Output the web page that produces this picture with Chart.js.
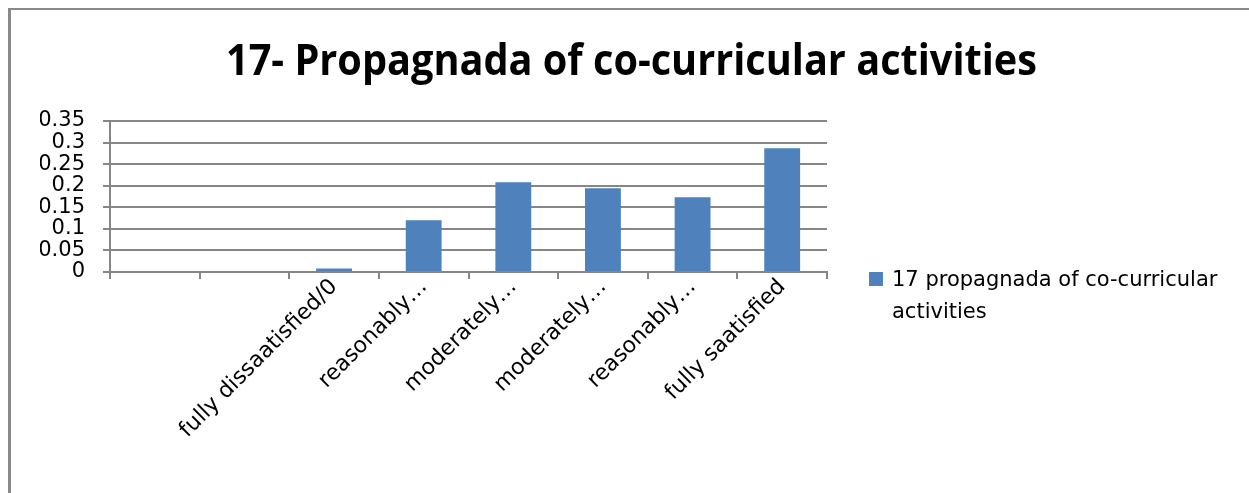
<!DOCTYPE html>
<html>
<head>
<meta charset="utf-8">
<script src="https://cdn.jsdelivr.net/npm/chart.js@4/dist/chart.umd.min.js"></script>
<style>
  html, body { margin: 0; padding: 0; background: #fff; }
  #wrap { width: 1249px; height: 493px; }
</style>
</head>
<body>
<div id="wrap"><canvas id="myChart" width="1249" height="493"></canvas></div>
<script>
// dados do gráfico
const chartTitle = '17- Propagnada of co-curricular activities';
const seriesName = ['17 propagnada of co-curricular', 'activities'];
const categories = ['', '', 'fully dissaatisfied/0', 'reasonably…', 'moderately…', 'moderately…', 'reasonably…', 'fully saatisfied'];
const values = [0, 0, 0.008, 0.12, 0.208, 0.194, 0.173, 0.287];
const yTickValues = [0, 0.05, 0.1, 0.15, 0.2, 0.25, 0.3, 0.35];
const yTickLabels = ['0', '0.05', '0.1', '0.15', '0.2', '0.25', '0.3', '0.35'];

const barColor = '#4F81BD';
const gridColor = '#868686';

// moldura, título e legenda desenhados à mão
const decorPlugin = {
    id: 'decor',
    afterDraw(chart) {
        const ctx = chart.ctx;
        const area = chart.chartArea;
        ctx.save();
        // moldura cinza
        ctx.fillStyle = '#8a8a8a';
        ctx.fillRect(8, 8, 1241, 2);
        ctx.fillRect(8, 8, 3, 485);

        // título (fonte estreita tipo Calibri)
        ctx.fillStyle = '#000';
        ctx.font = 'bold 43px "Open Sans"';
        ctx.textBaseline = 'alphabetic';
        ctx.textAlign = 'left';
        const w = ctx.measureText(chartTitle).width;
        ctx.save();
        ctx.translate(226, 75);
        ctx.scale(811 / w, 1);
        ctx.fillText(chartTitle, 0, 0);
        ctx.restore();

        // legenda
        const lx = area.right + 42;
        ctx.fillStyle = barColor;
        ctx.fillRect(lx, 272, 14, 14);
        ctx.fillStyle = '#000';
        ctx.font = '21px "DejaVu Sans"';
        seriesName.forEach((line, i) => {
            ctx.fillText(line, lx + 23, 286 + i * 32);
        });
        ctx.restore();
    }
};

const ctx = document.getElementById('myChart').getContext('2d');
const myChart = new Chart(ctx, {
    type: 'bar',
    data: {
        labels: categories,
        datasets: [{
            label: seriesName.join(' '),
            data: values,
            backgroundColor: barColor,
            categoryPercentage: 1,
            barPercentage: 0.4
        }]
    },
    options: {
        responsive: false,
        animation: false,
        layout: {
            padding: { left: 40, right: 422, top: 121, bottom: 21 }
        },
        scales: {
            x: {
                grid: {
                    offset: true,
                    drawOnChartArea: false,
                    drawTicks: true,
                    tickLength: 7,
                    color: gridColor,
                    lineWidth: 2
                },
                border: { color: gridColor, width: 2 },
                ticks: {
                    color: '#000',
                    font: { family: 'DejaVu Sans', size: 22 },
                    minRotation: 45,
                    maxRotation: 45,
                    autoSkip: false,
                    padding: -5
                },
                afterFit: s => { s.height = 200; }
            },
            y: {
                min: 0,
                max: 0.35,
                grid: {
                    color: gridColor,
                    lineWidth: 2,
                    tickLength: 7
                },
                border: { color: gridColor, width: 2 },
                ticks: {
                    stepSize: 0.05,
                    autoSkip: false,
                    color: '#000',
                    font: { family: 'DejaVu Sans', size: 21 },
                    padding: 18,
                    callback: v => yTickLabels[yTickValues.indexOf(+Number(v).toFixed(2))]
                },
                afterFit: s => { s.width = 70; }
            }
        },
        plugins: {
            legend: { display: false },
            title: { display: false },
            tooltip: { enabled: false }
        }
    },
    plugins: [decorPlugin]
});
</script>
</body>
</html>
